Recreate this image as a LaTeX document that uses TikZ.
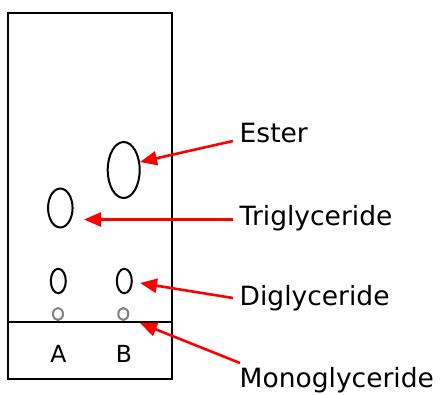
\documentclass[tikz,border=0pt]{standalone}
\usepackage{fontspec}
\setmainfont{DejaVu Sans}
\usetikzlibrary{arrows.meta,shapes.geometric}
\begin{document}
\begin{tikzpicture}[x=1pt,y=-1pt,
  spot/.style={draw=black,line width=2pt,ellipse,inner sep=0pt},
  tiny/.style={draw=gray,line width=2pt,ellipse,inner sep=0pt},
  lbl/.style={anchor=base west,inner sep=0pt,font=\fontsize{26.5}{31}\selectfont},
  lane/.style={anchor=base,inner sep=0pt,font=\fontsize{23.5}{28}\selectfont},
  arr/.style={draw=red,line width=2.6pt,-{Triangle[length=17pt,width=14pt]}}]
\useasboundingbox (0,0) rectangle (444,394);
% plate
\draw[line width=2pt] (8.3,12.7) rectangle (171.7,379);
\draw[line width=2pt] (8.3,321.7) -- (171.7,321.7);
% spots
\node[spot,minimum width=32pt,minimum height=56pt] (ester) at (123.7,170) {};
\node[spot,minimum width=24.5pt,minimum height=39pt] (tri) at (60.3,208) {};
\node[spot,minimum width=15pt,minimum height=24.5pt] (diA) at (58.3,281) {};
\node[spot,minimum width=15pt,minimum height=24.5pt] (diB) at (124.3,281) {};
\node[tiny,minimum width=10pt,minimum height=12pt] (moA) at (58,314) {};
\node[tiny,minimum width=10pt,minimum height=12pt] (moB) at (123.3,314) {};
% lane labels
\node[lane] (A) at (58.5,362) {A};
\node[lane] (B) at (124,362) {B};
% compound labels
\node[lbl] (lE) at (239.5,142) {Ester};
\node[lbl] (lT) at (239.5,225) {Triglyceride};
\node[lbl] (lD) at (239.5,305) {Diglyceride};
\node[lbl] (lM) at (239.5,387) {Monoglyceride};
% arrow ends
\coordinate (sE) at (233,141);
\coordinate (tE) at (140,162);
\coordinate (sT) at (233,219.5);
\coordinate (tT) at (84,219.5);
\coordinate (sD) at (233,298);
\coordinate (tD) at (140,283);
\coordinate (sM) at (240,363);
\coordinate (tM) at (140,323);
\draw[arr] (sE) -- (tE);
\draw[arr] (sT) -- (tT);
\draw[arr] (sD) -- (tD);
\draw[arr] (sM) -- (tM);
\end{tikzpicture}
\end{document}
